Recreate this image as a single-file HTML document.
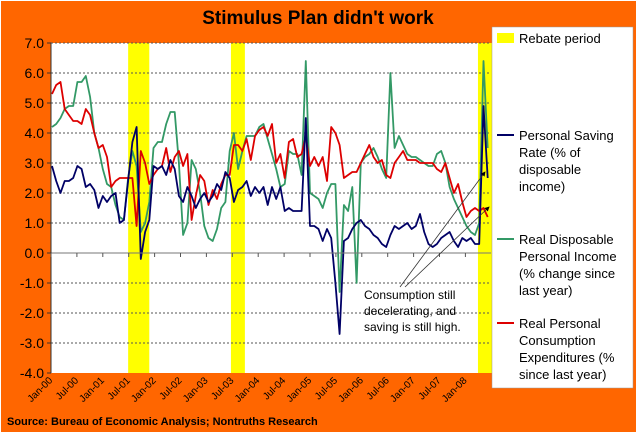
<!DOCTYPE html>
<html><head><meta charset="utf-8"><style>
body{margin:0;background:#fff}
svg{display:block;font-family:"Liberation Sans",Arial,sans-serif}
</style></head><body>
<svg id="c" width="637" height="434">
<rect x="1" y="1" width="635" height="431" fill="#FF6600"/>
<text x="318" y="24" text-anchor="middle" font-size="19" font-weight="bold" fill="#000">Stimulus Plan didn't work</text>
<rect x="51" y="43" width="440" height="330" fill="#fff"/>
<g id="bands"></g><g id="grid"></g><g id="series"></g><g id="axes"></g>
<rect x="492" y="27" width="141" height="361" fill="#fff" stroke="#999" stroke-width="0.5"/>
<rect x="497" y="33" width="17" height="10" fill="#FFFF00"/>
<text x="519" y="43" font-size="13">Rebate period</text>
<g font-size="13">
<line x1="497" y1="135" x2="514" y2="135" stroke="#000066" stroke-width="2"/>
<text x="519" y="140">Personal Saving</text><text x="519" y="157">Rate (% of</text><text x="519" y="174">disposable</text><text x="519" y="191">income)</text></g>
<g font-size="13">
<line x1="497" y1="239" x2="514" y2="239" stroke="#339966" stroke-width="2"/>
<text x="519" y="244">Real Disposable</text><text x="519" y="261">Personal Income</text><text x="519" y="278">(% change since</text><text x="519" y="295">last year)</text></g>
<g font-size="13">
<line x1="497" y1="323" x2="514" y2="323" stroke="#DD0000" stroke-width="2"/>
<text x="519" y="328">Real Personal</text><text x="519" y="345">Consumption</text><text x="519" y="362">Expenditures (%</text><text x="519" y="379">since last year)</text></g>
<g>
<defs><marker id="ah" markerWidth="6" markerHeight="6" refX="5" refY="3" orient="auto"><path d="M0,0 L6,3 L0,6 z" fill="#000"/></marker></defs>
<line x1="400" y1="287" x2="485" y2="172" stroke="#333" stroke-width="0.8" marker-end="url(#ah)"/>
<line x1="405" y1="287" x2="489" y2="207" stroke="#333" stroke-width="0.8" marker-end="url(#ah)"/>
<text font-size="12" fill="#000"><tspan x="364" y="299">Consumption still</tspan><tspan x="364" y="315">decelerating, and</tspan><tspan x="364" y="331">saving is still high.</tspan></text></g>
<text x="7" y="425" font-size="11" font-weight="bold">Source: Bureau of Economic Analysis; Nontruths Research</text>
</svg>
<script>
const saving=[2.9,2.4,2.0,2.4,2.4,2.5,2.9,2.8,2.2,2.3,2.1,1.5,1.9,1.7,1.9,2.0,1.0,1.1,2.4,3.7,4.2,-0.2,0.7,1.1,2.9,2.8,2.9,2.6,3.1,2.8,1.9,1.7,2.2,1.9,1.5,1.8,2.0,1.7,1.9,2.3,2.1,2.7,2.5,1.7,2.1,2.2,2.4,1.9,2.2,2.0,2.2,1.6,2.2,1.8,2.2,1.4,1.5,1.4,1.4,1.4,4.5,0.9,0.9,0.8,0.4,0.8,0.5,-1.0,-2.7,0.4,0.5,0.8,1.0,1.1,0.9,0.8,0.6,0.5,0.3,0.2,0.6,0.9,0.8,0.9,1.0,0.8,0.9,1.3,0.7,0.3,0.2,0.3,0.5,0.6,0.7,0.4,0.2,0.5,0.4,0.5,0.3,0.3,4.9,2.5];
const income=[4.2,4.3,4.5,4.8,4.9,4.9,5.7,5.7,5.9,5.2,4.0,3.5,2.8,2.3,2.2,1.6,1.2,1.1,2.5,3.4,2.9,0.7,1.0,1.7,3.5,3.7,3.7,4.3,4.7,4.7,3.0,0.6,1.0,3.1,2.8,2.0,0.9,0.5,0.4,0.8,1.5,1.7,3.4,4.0,2.8,3.4,3.9,3.9,3.9,4.2,4.3,3.8,3.3,2.8,2.2,2.3,3.4,3.3,3.3,2.6,6.4,2.0,1.9,1.8,1.5,2.0,2.3,2.3,-1.3,1.6,1.4,2.2,-1.0,3.0,3.2,3.3,3.5,3.2,2.8,2.5,6.0,3.5,3.9,3.6,3.3,3.2,3.2,3.1,3.0,2.9,2.9,3.3,3.4,3.0,2.2,1.8,1.5,1.2,0.9,0.7,0.6,1.0,6.4,3.5];
const consumption=[5.3,5.6,5.7,4.8,4.6,4.4,4.4,4.3,4.8,4.6,4.0,3.5,3.6,3.2,2.2,2.4,2.5,2.5,2.5,2.5,0.9,3.4,3.0,2.3,2.6,2.8,2.9,3.5,2.7,3.2,3.4,2.9,3.3,1.1,1.9,2.6,2.4,1.6,2.1,1.8,2.3,2.6,2.6,3.6,3.6,3.4,3.8,3.1,3.9,4.1,4.2,3.9,4.3,3.0,3.3,2.5,3.7,3.8,3.2,3.3,3.9,2.9,3.2,2.9,3.2,2.4,4.2,4.0,3.6,2.5,2.6,2.7,2.7,3.0,3.3,3.6,3.2,3.0,3.1,2.6,2.5,3.0,3.2,3.4,3.1,3.1,3.1,3.0,3.0,3.0,3.0,2.8,2.7,3.0,2.5,2.0,2.3,1.7,1.2,1.4,1.5,1.4,1.5,1.2];
const rebateStart=[18,42.3,100.7];
const rebateEnd=[23,45.6,104];
const yTicks=[7,6,5,4,3,2,1,0,-1,-2,-3,-4];
const xLabels=["Jan-00","Jul-00","Jan-01","Jul-01","Jan-02","Jul-02","Jan-03","Jul-03","Jan-04","Jul-04","Jan-05","Jul-05","Jan-06","Jul-06","Jan-07","Jul-07","Jan-08"];
const NS="http://www.w3.org/2000/svg";
function X(i){return 52+i*4.23;}
function Y(v){return 253-v*30;}
function mk(tag,attrs,parent){const e=document.createElementNS(NS,tag);for(const k in attrs)e.setAttribute(k,attrs[k]);document.getElementById(parent).appendChild(e);return e;}
rebateStart.forEach((s,k)=>{
 const r=mk('rect',{x:X(s),y:43,width:X(rebateEnd[k])-X(s),height:330,fill:'#FFFF00'},'bands');
 
 
});
yTicks.forEach(v=>{
 if(v!==0&&v!==-4){const l=mk('line',{x1:51,x2:491,y1:Y(v),y2:Y(v),stroke:'#555','stroke-width':1,'stroke-dasharray':'2,2'},'grid');
 
 }
 const t=mk('text',{x:44,y:Y(v)+5,'text-anchor':'end','font-size':14},'axes');
 t.textContent=v.toFixed(1);
 
 
 mk('line',{x1:47,x2:51,y1:Y(v),y2:Y(v),stroke:'#333'},'axes');
});
const z=mk('line',{x1:51,x2:491,y1:Y(0),y2:Y(0),stroke:'#777','stroke-width':1},'axes');


const ya=mk('line',{x1:51,x2:51,y1:43,y2:373,stroke:'#333','stroke-width':1},'axes');


xLabels.forEach((s,k)=>{
 const tx=51+k*25.9;
 mk('line',{x1:tx,x2:tx,y1:Y(0),y2:Y(0)+4,stroke:'#555'},'axes');
 const t=mk('text',{x:tx+2,y:381,'text-anchor':'end','font-size':10,transform:`rotate(-45 ${tx+2} 381)`},'axes');
 t.textContent=s;
 
 
});
[[income,'#339966','series-real-disposable-income'],[consumption,'#DD0000','series-real-consumption'],[saving,'#000066','series-saving-rate']].forEach(([d,c,n])=>{
 const p=mk('polyline',{points:d.map((v,i)=>X(i).toFixed(1)+','+Y(v).toFixed(1)).join(' '),fill:'none',stroke:c,'stroke-width':1.8,'stroke-linejoin':'round'},'series');
 
 
});
</script>
</body></html>
